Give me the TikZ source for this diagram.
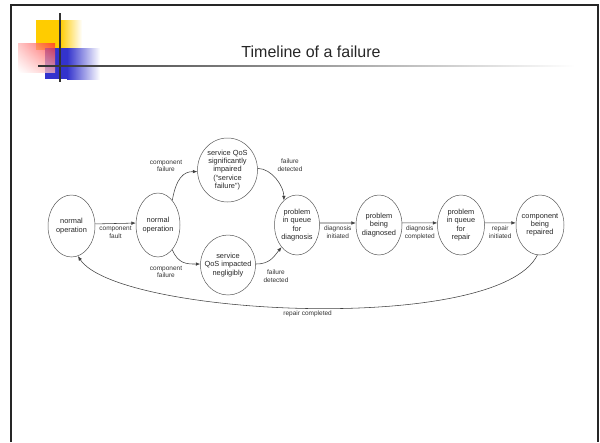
\documentclass[tikz,border=0pt]{standalone}
\usepackage{fontspec}
\setmainfont{Liberation Sans}
\usepackage{tikz}
\usetikzlibrary{shapes.geometric,arrows,arrows.meta,positioning,calc,shadings}
\definecolor{SLDyellow}{RGB}{255,204,0}
\definecolor{SLDred}{RGB}{255,40,40}
\definecolor{SLDblue}{RGB}{51,51,204}
\definecolor{SLDgray}{RGB}{50,50,50}
\tikzstyle{fstate} = [ellipse, draw=black!65, line width=0.5pt,
                      inner xsep=-5pt, inner ysep=-3pt, align=center,
                      minimum width=46pt, minimum height=60pt,
                      font=\fontsize{7.4}{8.3}\selectfont, text=black!85]
\tikzstyle{Swide} = [fstate, minimum width=60pt, minimum height=64pt]
\tikzstyle{elab}  = [font=\fontsize{6.5}{7.6}\selectfont, align=center,
                     text=black!80, inner sep=1pt]
\tikzstyle{conn}  = [->, line width=0.55pt, draw=black!75]

\begin{document}
\begin{tikzpicture}[x=1pt, y=-1pt, >={Latex[length=4.5pt,width=3.6pt]}]
  \useasboundingbox (0,0) rectangle (600,442);

  \fill[SLDyellow] (36,20) rectangle (60,50);
  \shade[left color=SLDyellow, right color=white] (60,20) rectangle (82,50);
  \fill[SLDblue] (45,48) rectangle (67,79);
  \shade[left color=SLDblue, right color=white] (67,48) rectangle (100,79);
  \shade[upper right=SLDred, upper left=SLDred!35, lower right=SLDred!35,
         lower left=white, opacity=0.75] (18,43) rectangle (55,72);
  \draw[line width=1.3pt, SLDgray] (60,13) -- (60,82);
  \shade[left color=SLDgray, middle color=black!45, right color=white]
        (38,65.3) rectangle (575,66.7);
  \draw[line width=2pt, black!85] (11,442) -- (11,5) -- (598,5) -- (598,442);

  \node[font=\fontsize{16}{18}\selectfont, text=black!85] (title) at (311,52)
        {Timeline of a failure};

  \node[fstate, minimum width=47pt, minimum height=62pt] (norm1) at (71.5,226) {normal\\operation};
  \node[fstate, minimum width=44pt, minimum height=64pt] (norm2) at (158,225)  {normal\\operation};
  \node[Swide] (sfail) at (227.5,170) {service QoS\\significantly\\impaired\\(“service\\failure”)};
  \node[Swide, minimum width=55pt, minimum height=60pt] (sneg) at (228,265) {service\\QoS impacted\\negligibly};
  \node[fstate, minimum width=45pt] (qdiag)  at (297,225) {problem\\in queue\\for\\diagnosis};
  \node[fstate]                     (diag)   at (379,225) {problem\\being\\diagnosed};
  \node[fstate, minimum width=47pt] (qrep)   at (461,225) {problem\\in queue\\for\\repair};
  \node[fstate, minimum width=48pt] (repair) at (540,225) {component\\being\\repaired};

  \draw[conn] (norm1.5) -- node[elab, below=2pt]{component\\fault} (norm2.175);
  \draw[conn] (norm2.60) .. controls +(4,-22) and +(-14,0) .. (sfail.183)
        node[elab] at (166,166) {component\\failure};
  \draw[conn] (norm2.300) .. controls +(6,14) and +(-14,0) .. (sneg.178)
        node[elab] at (166,272) {component\\failure};
  \draw[conn] (sfail.3) .. controls +(14,0) and +(0,-14) .. (qdiag.118)
        node[elab] at (290,165) {failure\\detected};
  \draw[conn] (sneg.2) .. controls +(14,0) and +(-8,10) .. (qdiag.235)
        node[elab] at (276,276) {failure\\detected};
  \draw[conn] (qdiag.5) -- node[elab, below=2pt]{diagnosis\\initiated} (diag.175);
  \draw[conn] (diag.5)  -- node[elab, below=2pt]{diagnosis\\completed} (qrep.175);
  \draw[conn] (qrep.5)  -- node[elab, below=2pt]{repair\\initiated} (repair.175);
  \draw[conn] (repair.265) .. controls +(-40,80) and +(40,60) .. (norm1.282)
        node[elab, pos=0.5, below=1pt] {repair completed};
\end{tikzpicture}
\end{document}
